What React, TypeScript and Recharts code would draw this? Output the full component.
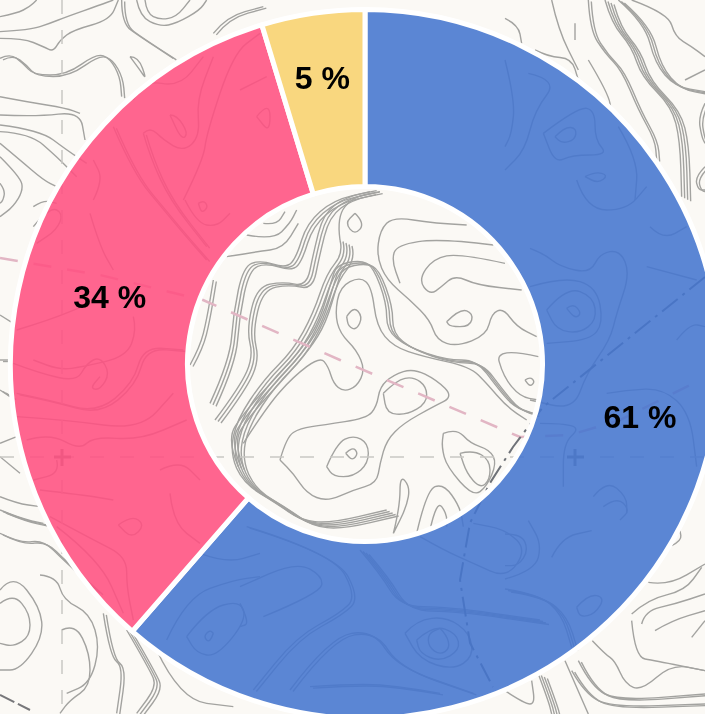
import { PieChart, Pie, Cell } from "recharts";

const categories = ["Blue", "Pink", "Yellow"];
const shares = [61.4, 33.9, 4.7];
const shareLabels = ["61 %", "34 %", "5 %"];
const COLORS = ["#4475CF", "#FF5081", "#F8D26E"];

const WIDTH = 705;
const HEIGHT = 714;

const pieData = categories.map((name, i) => ({ name, value: shares[i] }));

// labels do not sit on the slice mid angle in the original: [clockwise deg from top, radius]
const LABEL_POLAR = [
  [100.9, 280],
  [284.7, 264],
  [351.5, 289],
];

// n = how many parallel copies of a line (the tight contour bundles)
type Trace = { d: string; n?: number };
type Crop = { ox: number; oy: number; lines: Trace[] };

const CROPS: Crop[] = [
  {
    ox: 180,
    oy: 180,
    lines: [
      { d: "300,840 320,770 360,745 430,735 560,715 590,680 600,620 640,585 700,565 770,600 820,650 760,680 670,730 620,780 600,850 590,910 520,930 440,965 380,940 340,880 300,840" },
      { d: "440,860 470,790 520,765 565,790 565,850 520,890 460,890 440,860" },
      { d: "497,820 517,800 535,820 517,842 497,820" },
      { d: "610,640 650,600 700,590 740,620 740,670 680,705 620,700 610,640" },
      { d: "190,790 260,680 340,590 420,530 445,560 460,610 490,635 530,620 555,570 530,510 480,460 465,400 480,320 540,290 575,320 590,440 640,500 730,530 870,560 920,610 980,680 1040,720" },
      { d: "500,410 520,378 548,410 530,450 505,440 500,410" },
      { d: "175,860 140,780 190,700 290,590 370,500 420,420 455,300 470,255 540,240 580,260 620,370 620,450 680,500 800,540 890,540 950,620 1000,680 1060,700", n: 3 },
      { d: "140,230 230,215 310,205 355,130" },
      { d: "200,165 280,180 330,130 350,90" },
      { d: "250,130 290,135 315,95" },
      { d: "30,555 60,500 80,420 100,300", n: 2 },
      { d: "90,670 150,540 160,400 190,260 240,240 320,265 350,230 380,130 460,60 570,35", n: 3 },
      { d: "105,720 180,620 220,530 200,450 230,320 310,305 380,320 400,220 430,100 500,50 590,32", n: 3 },
      { d: "480,180 490,220 440,280 400,400 340,510 250,600 170,720 150,820 190,910 290,970 360,1020 450,1030 620,990", n: 5 },
      { d: "480,180 470,110 520,50 600,35" },
      { d: "525,100 555,130 525,165 495,130 525,100" },
      { d: "860,135 760,130 640,110 600,150 590,230 620,300 690,360 750,420 770,480 830,500 920,465 935,400 970,385 1010,440 1070,470" },
      { d: "940,195 780,175 650,195 635,240 660,310" },
      { d: "975,250 840,220 760,235 715,300 750,345 785,320 825,285 890,315 1025,330" },
      { d: "800,425 840,385 880,400 870,440 810,440 800,425" },
      { d: "1075,530 945,500 970,590 1020,650 1075,660" },
      { d: "1035,600 1050,590 1065,605 1050,620 1035,600" },
      { d: "790,760 830,745 870,790 930,810 950,850 920,920 880,950 800,860 785,800 790,760" },
      { d: "840,820 880,810 930,840 930,900 900,925 860,880 840,820" },
      { d: "640,1060 660,980 660,885 690,920 680,980 640,1060" },
      { d: "710,1060 740,930 790,910 840,980 850,1040" },
      { d: "750,1050 770,960 800,1000 800,1040" },
    ],
  },
  {
    ox: 0,
    oy: 0,
    lines: [
      { d: "0,50 50,40 90,20 110,0" },
      { d: "0,95 90,90 150,70 200,50 300,15 340,0" },
      { d: "0,115 70,115 130,140 160,155 180,120 220,90 330,60 355,0" },
      { d: "0,175 30,160 70,190 100,225 200,225 290,160 330,175 360,230 365,290", n: 2 },
      { d: "0,290 80,305 200,325 240,340" },
      { d: "0,345 110,350 240,335 255,420" },
      { d: "0,375 120,390 200,450 260,490" },
      { d: "0,395 90,400 170,470 230,530" },
      { d: "0,430 60,480 130,540 170,560" },
      { d: "0,470 60,530 70,570 40,620 0,650" },
      { d: "0,550 15,570 10,600 0,610" },
      { d: "100,620 130,600 170,610" },
      { d: "390,170 415,170 440,240 420,210 390,170" },
      { d: "365,0 365,70 420,110 520,175", n: 2 },
      { d: "410,0 420,50 480,80 530,70 600,30 620,0" },
      { d: "435,0 440,40 480,60 530,50 570,0" },
      { d: "640,100 680,50 790,20", n: 2 },
      { d: "400,300 430,240 540,260 610,170" },
      { d: "430,400 450,380 490,420 550,455 600,410 590,300 640,170" },
      { d: "510,345 530,345 565,400 545,420 510,345" },
      { d: "340,380 400,520 500,640 550,700 620,780", n: 2 },
      { d: "430,400 450,470 510,600 620,740", n: 2 },
      { d: "550,600 610,480 620,400 700,160 780,100" },
      { d: "555,600 590,670 650,680 690,640" },
      { d: "595,610 610,600 625,620 605,640 595,610" },
      { d: "770,350 810,300 810,400 770,350" },
      { d: "720,270 800,230" },
      { d: "280,600 310,540 280,480" },
      { d: "270,640 300,740 340,810" },
      { d: "100,680 150,620 190,640 170,690 110,730" },
    ],
  },
  {
    ox: 505,
    oy: 0,
    lines: [
      { d: "250,0 255,90 300,160 350,210 400,330 450,420 455,480", n: 2 },
      { d: "300,0 320,70 380,140 410,230 500,320 525,420 530,590", n: 4 },
      { d: "340,0 420,70 450,190 510,260 600,275", n: 3 },
      { d: "380,0 490,40 510,110 560,140 600,170" },
      { d: "540,240 600,210" },
      { d: "140,0 160,90 220,210" },
      { d: "210,70 210,120" },
      { d: "0,55 40,75 50,130" },
      { d: "90,150 130,170 200,175 220,240" },
      { d: "250,180 310,280 320,340" },
      { d: "600,310 580,350 590,410 600,430", n: 2 },
      { d: "600,500 570,530 580,570 600,570", n: 2 },
      { d: "115,400 220,320 270,330 270,420 310,465 200,465 150,490 115,400" },
      { d: "150,410 180,380 215,385 210,420 170,430 150,410" },
      { d: "240,530 270,515 310,525 280,550 240,530" },
      { d: "0,180 30,300 20,400 0,440" },
      { d: "70,220 160,240 90,330 60,450 0,510" },
      { d: "340,380 400,480 390,600" },
    ],
  },
  {
    ox: 530,
    oy: 180,
    lines: [
      { d: "50,390 110,320 190,350 200,420 150,460 80,450 50,390" },
      { d: "110,385 130,370 155,400 135,415 110,385" },
      { d: "0,320 100,290 200,320 220,430 180,480 50,490" },
      { d: "0,205 40,220 90,260 180,280 210,220 270,210 300,280 260,400 240,480 170,580 130,690 0,660" },
      { d: "230,640 290,630 400,625 480,700 500,860" },
      { d: "30,730 100,730 150,745 100,790 100,920" },
      { d: "190,950 230,900 290,950 290,1000" },
      { d: "220,980 260,950 300,990 270,1020" },
      { d: "140,0 170,90 290,90 350,20" },
      { d: "360,140 400,180 470,140" },
      { d: "350,260 500,300" },
      { d: "440,480 480,430 525,440" },
    ],
  },
  {
    ox: 505,
    oy: 514,
    lines: [
      { d: "262,380 300,420 330,440 360,510 410,530 500,450 600,470" },
      { d: "380,300 430,255 540,230 590,160" },
      { d: "410,330 420,290 510,270 600,240" },
      { d: "450,350 500,320 600,290" },
      { d: "430,205 490,215 600,150" },
      { d: "500,95 530,80 525,50" },
      { d: "560,370 600,320" },
      { d: "380,320 390,430 450,440 600,470" },
      { d: "220,440 260,520 340,560 600,540", n: 2 },
      { d: "200,470 240,540 320,580 600,570", n: 2 },
      { d: "100,480 130,560 140,600", n: 4 },
      { d: "180,440 215,520 250,600" },
      { d: "0,530 60,570 90,570 80,500" },
      { d: "0,60 50,60 70,110 40,155 0,155" },
      { d: "0,195 90,170 110,90 70,20" },
      { d: "140,130 170,70 260,50" },
      { d: "215,280 250,240 300,250 270,300 225,310 215,280" },
      { d: "0,225 100,240 170,300 200,400", n: 3 },
    ],
  },
  {
    ox: 0,
    oy: 480,
    lines: [
      { d: "0,50 50,70 120,80" },
      { d: "0,90 60,115 130,130", n: 3 },
      { d: "0,160 60,190 130,180 190,240 300,340", n: 2 },
      { d: "0,370 40,340 90,400 90,470 40,500 0,490" },
      { d: "0,330 40,280 120,380 130,470 60,570 0,570" },
      { d: "120,285 170,290 190,360 270,400 300,500 270,610 200,640" },
      { d: "185,450 225,430 270,520 270,620 210,660 180,700" },
      { d: "310,400 330,530 370,560 350,700", n: 2 },
      { d: "380,450 450,570 470,620 410,700", n: 3 },
      { d: "470,510 540,660 700,680" },
      { d: "120,30 250,45 340,60" },
      { d: "150,110 280,180 380,230 380,320 400,420" },
      { d: "170,140 300,240 370,400" },
      { d: "355,135 395,105 435,135 395,175 355,135" },
      { d: "510,40 520,130 600,190" },
      { d: "640,460 630,490 610,470 630,450 640,460" },
      { d: "560,470 620,390 720,360 740,420 650,530 590,520 560,470" },
      { d: "500,480 560,350 700,300 780,290" },
      { d: "600,220 680,250 780,220" },
    ],
  },
  {
    ox: 240,
    oy: 520,
    lines: [
      { d: "600,325 620,345 630,385 600,405 565,380 565,340 600,325" },
      { d: "495,340 530,300 620,290 690,340 700,410 640,450 540,420 495,340" },
      { d: "530,360 580,315 650,340 660,390 600,425 540,400 530,360" },
      { d: "360,90 420,160 480,260 620,260 900,300", n: 4 },
      { d: "20,20 280,100 350,230 300,280 170,350 40,510", n: 2 },
      { d: "70,290 240,220 250,170 170,125 0,200" },
      { d: "0,250 30,310 0,320" },
      { d: "150,510 270,350 400,330 470,440 700,520", n: 2 },
      { d: "210,500 360,490 480,500 600,520", n: 2 },
      { d: "540,50 610,90 700,130 800,175 860,90 800,30 700,10" },
    ],
  },
  {
    ox: 0,
    oy: 260,
    lines: [
      { d: "50,210 150,180 270,130" },
      { d: "40,310 120,340 230,365 260,310 300,290 330,340 300,390 270,385 300,350" },
      { d: "50,400 150,420 290,460 400,370 430,260 550,270", n: 2 },
      { d: "400,170 410,210 380,290 250,320 180,330 100,300" },
      { d: "50,470 200,480 420,510 520,400" },
      { d: "80,540 150,520 240,570 280,530 420,540 560,480" },
      { d: "170,600 180,640 100,660" },
      { d: "480,630 540,600 600,660" },
      { d: "0,165 40,190" },
      { d: "0,300 30,300", n: 2 },
      { d: "0,390 30,410", n: 3 },
      { d: "0,550 50,530" },
      { d: "0,590 60,640" },
    ],
  },
];

// smooth line through the traced points, midpoints as on-curve points
function smoothPath(raw: string, ox: number, oy: number) {
  const pts = raw.split(" ").map((p) => {
    const [x, y] = p.split(",").map(Number);
    return [ox + x / 3, oy + y / 3];
  });
  let d = `M${pts[0][0]} ${pts[0][1]}`;
  for (let i = 1; i < pts.length - 1; i++) {
    const mx = (pts[i][0] + pts[i + 1][0]) / 2;
    const my = (pts[i][1] + pts[i + 1][1]) / 2;
    d += ` Q${pts[i][0]} ${pts[i][1]} ${mx} ${my}`;
  }
  const last = pts[pts.length - 1];
  return d + ` L${last[0]} ${last[1]}`;
}

function MapBackground() {
  return (
    <svg
      width={WIDTH}
      height={HEIGHT}
      style={{ position: "absolute", left: 0, top: 0, background: "#FBF9F5", filter: "blur(0.6px)" }}
    >
      <g fill="none" stroke="#A3A3A0" strokeWidth={1.4} strokeLinejoin="round">
        {CROPS.map((crop, c) =>
          crop.lines.map((line, l) =>
            Array.from({ length: line.n ?? 1 }).map((_, k) => (
              <path
                key={`${c}-${l}-${k}`}
                d={smoothPath(line.d, crop.ox, crop.oy)}
                transform={`translate(${k * 3} ${k * 1.5})`}
              />
            ))
          )
        )}
      </g>
      {/* grid lines and crosses on the map */}
      <g fill="none" stroke="#C9C8C4" strokeWidth={1.5} strokeDasharray="14 16">
        <path d="M0 457 H705" />
        <path d="M62 0 V714" />
      </g>
      <g fill="none" stroke="#8F8E8C" strokeWidth={3}>
        <path d="M54 457 H71 M62 449 V466" />
        <path d="M567 457 H584 M575 449 V466" />
      </g>
      <path
        d="M0 258 L100 275 L203 300 L340 360 L520 437 L570 435 L620 420 L690 385"
        fill="none"
        stroke="#E2B6C4"
        strokeWidth={2.5}
        strokeDasharray="18 16"
      />
      <path
        d="M705 277 L543 407 L513 447 L490 483 L470 523 L460 580 L470 643 L493 687"
        fill="none"
        stroke="#6F7278"
        strokeWidth={2}
        strokeDasharray="20 6 3 6"
      />
      <path d="M0 695 L30 710" fill="none" stroke="#77777A" strokeWidth={2} strokeDasharray="16 4" />
    </svg>
  );
}

function renderShareLabel(props: any) {
  const { cx, cy, index } = props;
  const [deg, radius] = LABEL_POLAR[index];
  const rad = (deg * Math.PI) / 180;
  return (
    <text
      x={cx + radius * Math.sin(rad)}
      y={cy - radius * Math.cos(rad)}
      textAnchor="middle"
      dominantBaseline="central"
      fontFamily="'Liberation Sans', Arial, sans-serif"
      fontWeight={700}
      fontSize={32}
      fill="#000"
    >
      {shareLabels[index]}
    </text>
  );
}

export default function App() {
  return (
    <div
      style={{
        position: "fixed",
        left: 0,
        top: 0,
        width: WIDTH,
        height: HEIGHT,
        overflow: "hidden",
      }}
    >
      <MapBackground />
      <div style={{ position: "absolute", left: 0, top: 0 }}>
        <PieChart width={WIDTH} height={HEIGHT} margin={{ top: 0, right: 0, bottom: 0, left: 0 }}>
          <Pie
            data={pieData}
            dataKey="value"
            nameKey="name"
            cx={365}
            cy={364}
            innerRadius={177.5}
            outerRadius={354.5}
            startAngle={90}
            endAngle={-270}
            stroke="#fff"
            strokeWidth={5}
            fillOpacity={0.88}
            label={renderShareLabel}
            labelLine={false}
            isAnimationActive={false}
          >
            {pieData.map((_, i) => (
              <Cell key={i} fill={COLORS[i]} />
            ))}
          </Pie>
        </PieChart>
      </div>
    </div>
  );
}
